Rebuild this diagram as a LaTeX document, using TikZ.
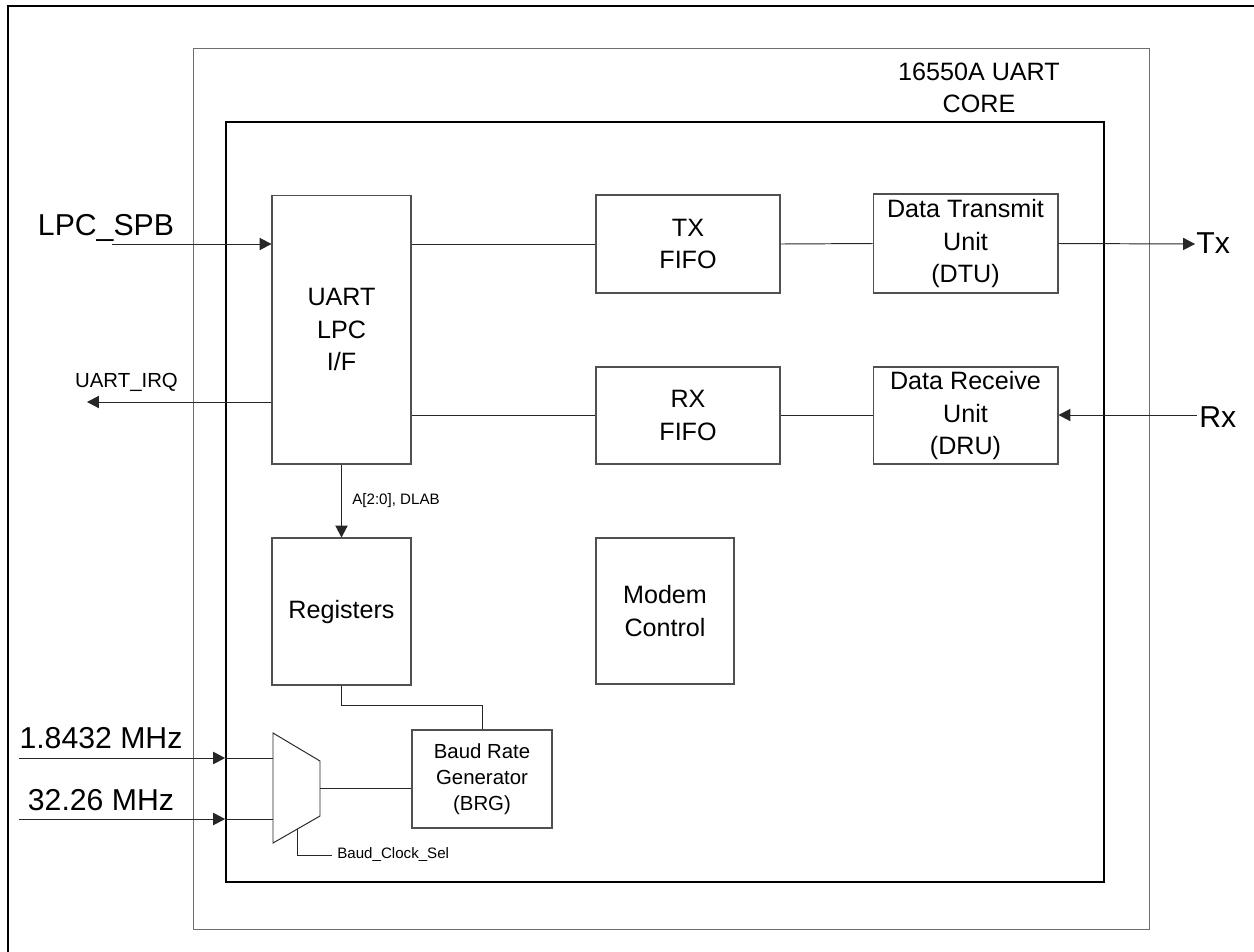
\documentclass[tikz,border=0pt]{standalone}
\usepackage{fontspec}
\setmainfont{Liberation Sans}
\usetikzlibrary{arrows.meta}
\definecolor{edgegray}{RGB}{80,80,80}
\definecolor{ipgray}{RGB}{110,110,110}

\tikzset{
  blk/.style={draw=edgegray, line width=0.6pt, align=center, inner sep=0pt,
    font=\fontsize{14.3}{18.3}\selectfont},
  big/.style={font=\fontsize{17.2}{20}\selectfont},
  mid/.style={font=\fontsize{11.6}{14.7}\selectfont},
  sml/.style={font=\fontsize{8.6}{10}\selectfont},
  wire/.style={draw=black!85, line width=0.55pt},
  arr/.style={-{Triangle[length=6.8pt,width=7pt]}}
}

\begin{document}
\begin{tikzpicture}[x=0.02cm, y=-0.02cm]
  \useasboundingbox (0,0) rectangle (1254,951);
  \clip (0,0) rectangle (1254,951);
  % page frame
  \draw[line width=1.5pt] (8,6) rectangle (1280,975);

  % ip block and core
  \node[draw=ipgray, line width=0.6pt, minimum width=19.14cm, minimum height=17.64cm] (ip) at (671.5,489) {};
  \node[draw, line width=1.1pt, minimum width=17.56cm, minimum height=15.2cm] (core) at (665,502) {};
  \node[blk, draw=none] (title) at (979,88) {16550A UART\\CORE};

  % blocks
  \node[blk, minimum width=2.78cm, minimum height=5.38cm] (lpc) at (341.5,329.5) {UART\\LPC\\I/F};
  \node[blk, minimum width=3.68cm, minimum height=1.96cm] (txf) at (688,244) {TX\\FIFO};
  \node[blk, minimum width=3.68cm, minimum height=1.94cm] (rxf) at (688,415.5) {RX\\FIFO};
  \node[blk, minimum width=3.7cm, minimum height=1.98cm] (dtu) at (965.5,243.5) {Data Transmit\\Unit\\(DTU)};
  \node[blk, minimum width=3.7cm, minimum height=1.94cm] (dru) at (965.5,415.5) {Data Receive\\Unit\\(DRU)};
  \node[blk, minimum width=2.78cm, minimum height=2.94cm] (reg) at (341.5,611.5) {Registers};
  \node[blk, minimum width=2.76cm, minimum height=2.92cm] (mdm) at (665,611) {Modem\\Control};
  \node[blk, mid, minimum width=2.8cm, minimum height=1.96cm] (brg) at (482,779) {Baud Rate\\Generator\\(BRG)};

  % clock mux
  \draw[wire] (273,733) -- (320,761) -- (320,816) -- (273,843) -- cycle;
  \coordinate (muxa) at (273,758);
  \coordinate (muxb) at (273,819);
  \coordinate (muxo) at (320,788);
  \coordinate (muxs) at (297,829);

  % host side
  \coordinate (spb) at (112,244);
  \coordinate (irq) at (87,402);
  \draw[wire, arr] (spb) -- (spb -| lpc.west);
  \node[big, anchor=base] (spbl) at (106,235) {LPC\_SPB};
  \draw[wire, arr] (lpc.west |- irq) -- (irq);
  \node[mid, anchor=base] (irql) at (126.5,387) {UART\_IRQ};

  % data path
  \draw[wire] (lpc.east |- txf.west) -- (txf.west);
  \draw[wire] (txf.east) -- (dtu.west);
  \draw[wire] (lpc.east |- rxf.west) -- (rxf.west);
  \draw[wire] (rxf.east) -- (dru.west);
  \coordinate (txo) at (1195,244);
  \coordinate (rxi) at (1197,415);
  \draw[wire, arr] (dtu.east) -- (txo);
  \draw[wire, arr] (rxi) -- (rxi -| dru.east);
  \node[big, anchor=base west, inner sep=0pt] (txl) at (1196,253) {Tx};
  \node[big, anchor=base west, inner sep=0pt] (rxl) at (1199,427) {Rx};

  % registers and baud clock
  \draw[wire, arr] (lpc.south) -- (reg.north);
  \node[sml, anchor=west, inner sep=0pt] (addr) at (352,501) {A[2:0], DLAB};
  \draw[wire] (reg.south) -- ++(0,20) -| (brg.north);
  \draw[wire] (muxo) -- (muxo -| brg.west);
  \coordinate (sel) at (332,855);
  \draw[wire] (muxs) |- (sel);
  \node[sml, anchor=west, inner sep=0pt] (sell) at (337,855) {Baud\_Clock\_Sel};

  \foreach \nm/\yy/\ly/\lab in {a/758/748/{1.8432 MHz}, b/819/810/{32.26 MHz}} {
    \coordinate (clk\nm) at (19,\yy);
    \draw[wire, arr] (clk\nm) -- (clk\nm -| core.west);
    \draw[wire] (clk\nm -| core.west) -- (mux\nm);
    \node[big, anchor=base] at (101,\ly) {\lab};
  }
\end{tikzpicture}
\end{document}
